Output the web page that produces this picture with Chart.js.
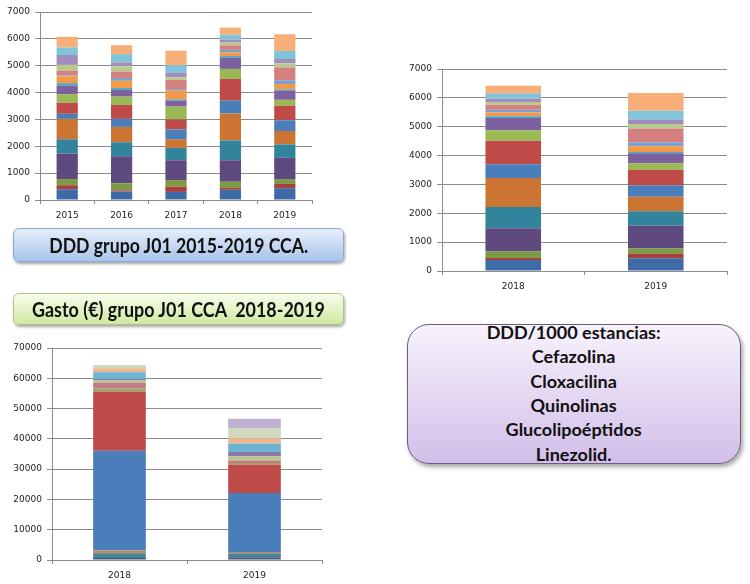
<!DOCTYPE html>
<html>
<head>
<meta charset="utf-8">
<script src="https://cdn.jsdelivr.net/npm/chart.js@4.4.1/dist/chart.umd.min.js"></script>
<style>
  body { margin: 0; width: 750px; height: 584px; background: #fff; position: relative; overflow: hidden; font-family: Lato, 'Open Sans', sans-serif; }
  canvas { position: absolute; }
  .box { position: absolute; box-sizing: border-box; display: flex; align-items: center; justify-content: center; font-weight: bold; color: #111; }
  .fit { display: inline-block; white-space: nowrap; }
  #boxDdd { left: 13px; top: 228px; width: 331px; height: 34px; border-radius: 6px; border: 1px solid #8ba8d6;
            background: linear-gradient(#e6eefb, #a9c4ea); box-shadow: 1px 2px 3px rgba(0,0,0,0.35); font-size: 20px; }
  #boxGasto { left: 13px; top: 293px; width: 331px; height: 32px; border-radius: 6px; border: 1px solid #a9c77e;
              background: linear-gradient(#f8fdec, #cfe8a2); box-shadow: 1px 2px 3px rgba(0,0,0,0.35); font-size: 20px; }
  #boxList { left: 407px; top: 324px; width: 334px; height: 140px; border-radius: 22px; border: 1.5px solid #6b5c7e;
             background: linear-gradient(#f7f2fc, #d2bfe9); box-shadow: 2px 3px 4px rgba(0,0,0,0.35); font-size: 16.5px; line-height: 24.3px; text-align: center; }
</style>
</head>
<body>
<canvas id="dddYears" width="330" height="226" style="left:0;top:0"></canvas>
<canvas id="dddTwo" width="350" height="250" style="left:400px;top:55px"></canvas>
<canvas id="gasto" width="340" height="249" style="left:0;top:335px"></canvas>

<div class="box" id="boxDdd"><span class="fit" data-w="259">DDD grupo J01 2015-2019 CCA.</span></div>
<div class="box" id="boxGasto"><span class="fit" data-w="293">Gasto (€) grupo J01 CCA&nbsp; 2018-2019</span></div>
<div class="box" id="boxList">
  <div class="fit" id="listText">
    <div id="listHead">DDD/1000 estancias:</div>
    <div>Cefazolina</div>
    <div>Cloxacilina</div>
    <div>Quinolinas</div>
    <div>Glucolipoéptidos</div>
    <div>Linezolid.</div>
  </div>
</div>

<script>
// DDD grupo J01: one value per antibiotic group (18 groups), stacked bottom to top
const dddYears = ['2015', '2016', '2017', '2018', '2019'];
const ddd2015 = [400, 150, 230, 950, 530, 760, 190, 410, 320, 320, 90, 260, 30, 180, 210, 370, 280, 395];
const ddd2016 = [310, 50, 260, 1010, 520, 570, 300, 520, 310, 250, 70, 270, 100, 240, 200, 140, 310, 335];
const ddd2017 = [300, 190, 250, 740, 460, 320, 370, 370, 480, 220, 50, 320, 60, 340, 100, 180, 270, 540];
const ddd2018 = [380, 70, 230, 800, 740, 1000, 480, 810, 370, 420, 60, 130, 100, 170, 100, 110, 180, 270];
const ddd2019 = [440, 160, 180, 790, 500, 500, 400, 540, 220, 350, 40, 200, 140, 480, 150, 160, 300, 620];
const dddColors = ['#3e6aa6', '#a9403d', '#7d9a45', '#5f4a80', '#31849b', '#cc7431',
                   '#4a7ebb', '#be4b48', '#98b954', '#7d60a0', '#46aac5', '#f49a46',
                   '#7c9fd0', '#d3807e', '#b7cb8c', '#a18dbd', '#7fc4d8', '#f8ae78'];
const dddTicks = [0, 1000, 2000, 3000, 4000, 5000, 6000, 7000];

// Gasto (€) grupo J01: 14 groups, stacked bottom to top
const gastoYears = ['2018', '2019'];
const gasto2018 = [700, 300, 1200, 900, 33000, 19500, 1100, 1850, 900, 320, 2200, 1330, 1090, 0];
const gasto2019 = [800, 500, 700, 400, 19700, 9400, 550, 770, 1430, 1430, 2750, 1650, 3520, 3080];
const gastoColors = ['#3a5a80', '#5b6f8c', '#3d8a99', '#c0895a', '#4a7ebb', '#be4b48', '#98a86a',
                     '#c27c86', '#b8c58e', '#8b77a8', '#6cb4d0', '#f0b78e', '#d0d8be', '#bfb0cf'];
const gastoTicks = [0, 10000, 20000, 30000, 40000, 50000, 60000, 70000];

const tickFont = { family: 'DejaVu Sans', size: 9 };
const lineColor = '#8c8c8c';

function buildDatasets(columns, colors) {
    return colors.map((c, i) => ({
        data: columns.map(col => col[i]),
        backgroundColor: c,
        borderWidth: 0,
        categoryPercentage: 1,
        barPercentage: 0.39
    }));
}

function stackedOptions(o) {
    return {
        responsive: false,
        animation: false,
        layout: { padding: { top: o.top, right: o.right, left: 0, bottom: 0 } },
        plugins: { legend: { display: false }, tooltip: { enabled: false } },
        scales: {
            x: {
                stacked: true,
                grid: { display: true, drawOnChartArea: false, offset: true, tickLength: 4, color: lineColor },
                border: { color: lineColor },
                ticks: { color: '#222', font: tickFont, padding: o.xPad, maxRotation: 0 },
                afterFit: s => { s.height = o.xHeight; }
            },
            y: {
                stacked: true,
                min: 0,
                max: o.ticks[o.ticks.length - 1],
                afterBuildTicks: s => { s.ticks = o.ticks.map(v => ({ value: v })); },
                grid: { color: lineColor, tickLength: 5 },
                border: { color: lineColor },
                ticks: { color: '#222', font: tickFont, padding: 5, callback: v => String(v) },
                afterFit: s => { s.width = o.yWidth; }
            }
        }
    };
}

new Chart(document.getElementById('dddYears'), {
    type: 'bar',
    data: { labels: dddYears, datasets: buildDatasets([ddd2015, ddd2016, ddd2017, ddd2018, ddd2019], dddColors) },
    options: stackedOptions({ top: 12, right: 18, yWidth: 40, xHeight: 26, xPad: 6, ticks: dddTicks })
});

new Chart(document.getElementById('dddTwo'), {
    type: 'bar',
    data: { labels: ['2018', '2019'], datasets: buildDatasets([ddd2018, ddd2019], dddColors) },
    options: stackedOptions({ top: 14, right: 23, yWidth: 42, xHeight: 34, xPad: 6, ticks: dddTicks })
});

new Chart(document.getElementById('gasto'), {
    type: 'bar',
    data: { labels: gastoYears, datasets: buildDatasets([gasto2018, gasto2019], gastoColors) },
    options: stackedOptions({ top: 13, right: 18, yWidth: 52, xHeight: 24, xPad: 6, ticks: gastoTicks })
});

// fit the bold titles to the width they have in the original
function squeeze() {
    document.querySelectorAll('span.fit').forEach(el => {
        const k = +el.dataset.w / el.getBoundingClientRect().width;
        el.style.transform = 'scaleX(' + k + ')';
    });
    const range = document.createRange();
    range.selectNodeContents(document.getElementById('listHead'));
    const k = 174 / range.getBoundingClientRect().width;
    document.getElementById('listText').style.transform = 'scaleX(' + k + ')';
}
document.fonts.ready.then(squeeze);
</script>
</body>
</html>
